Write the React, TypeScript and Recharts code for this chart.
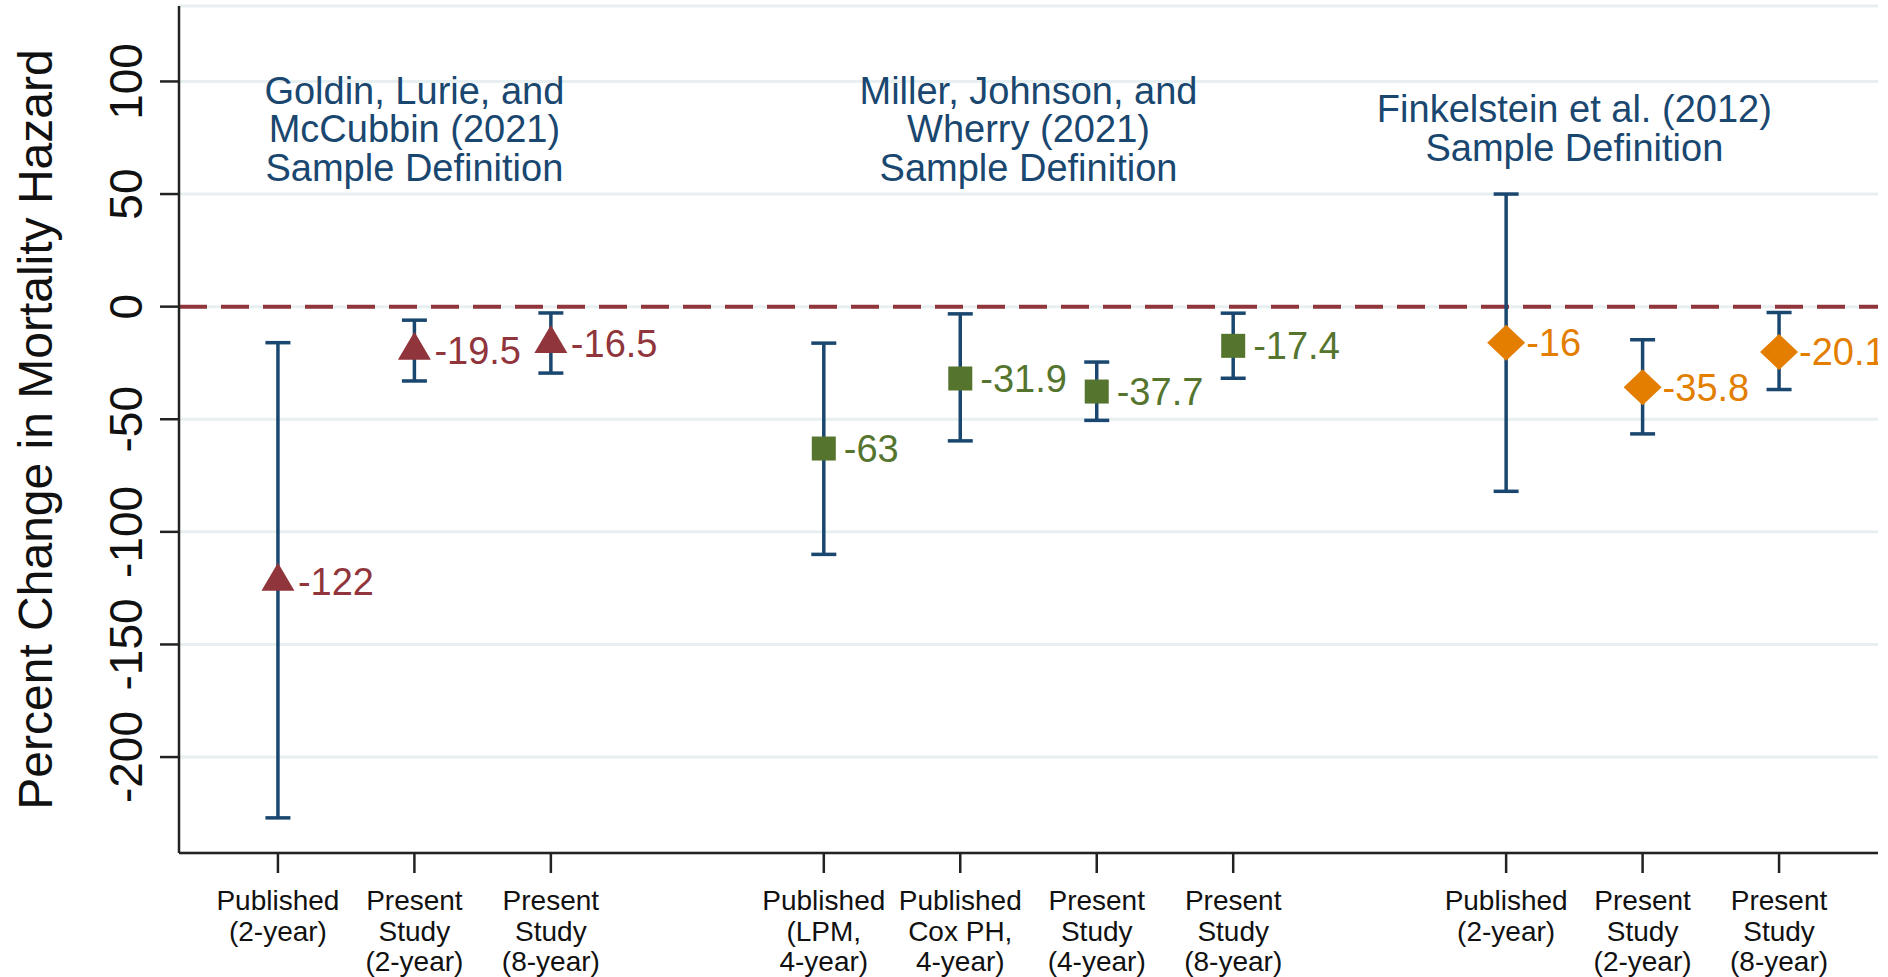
import React from "react";
import {
  ComposedChart,
  Scatter,
  XAxis,
  YAxis,
  CartesianGrid,
  ReferenceLine,
  ErrorBar,
  Label,
} from "recharts";

const FONT = '"Liberation Sans", Arial, Helvetica, sans-serif';
const NAVY = "#1a476f";
const MAROON = "#90353b";
const GREEN = "#55752f";
const ORANGE = "#e37e00";

// x slots, with a blank slot between the three sample definitions
const xPositions = [1, 2, 3, 5, 6, 7, 8, 10, 11, 12];
const tickLabels = [
  ["Published", "(2-year)"],
  ["Present", "Study", "(2-year)"],
  ["Present", "Study", "(8-year)"],
  ["Published", "(LPM,", "4-year)"],
  ["Published", "Cox PH,", "4-year)"],
  ["Present", "Study", "(4-year)"],
  ["Present", "Study", "(8-year)"],
  ["Published", "(2-year)"],
  ["Present", "Study", "(2-year)"],
  ["Present", "Study", "(8-year)"],
];
const estimates = [-122, -19.5, -16.5, -63, -31.9, -37.7, -17.4, -16, -35.8, -20.1];
const ciLow = [-227, -33, -29.5, -110, -59.6, -50.5, -31.8, -82, -56.5, -36.8];
const ciHigh = [-16, -6, -2.8, -16.2, -3.2, -24.6, -2.9, 50, -14.7, -2.6];

const headingX = [2, 6.5, 10.5];
const headingY = [96.2, 96.2, 87.8];
const headingLines = [
  ["Goldin, Lurie, and", "McCubbin (2021)", "Sample Definition"],
  ["Miller, Johnson, and", "Wherry (2021)", "Sample Definition"],
  ["Finkelstein et al. (2012)", "Sample Definition"],
];

const yTicks = [-200, -150, -100, -50, 0, 50, 100];

const rows = xPositions.map((x, i) => ({
  x,
  y: estimates[i],
  err: [estimates[i] - ciLow[i], ciHigh[i] - estimates[i]],
  label: String(estimates[i]),
}));
const goldinRows = rows.slice(0, 3);
const millerRows = rows.slice(3, 7);
const finkRows = rows.slice(7);

const headingRows = headingX.map((x, i) => ({ x, y: headingY[i], lines: headingLines[i] }));

function pointLabel(cx: number, cy: number, text: string, color: string) {
  return (
    <text x={cx + 20} y={cy + 13.5} fill={color} fontSize={38} fontFamily={FONT}>
      {text}
    </text>
  );
}

const Triangle = (p: any) => (
  <g>
    <polygon
      points={`${p.cx},${p.cy - 18.7} ${p.cx + 16.5},${p.cy + 9.3} ${p.cx - 16.5},${p.cy + 9.3}`}
      fill={MAROON}
    />
    {pointLabel(p.cx, p.cy, p.payload.label, MAROON)}
  </g>
);

const Square = (p: any) => (
  <g>
    <rect x={p.cx - 12} y={p.cy - 12} width={24} height={24} fill={GREEN} />
    {pointLabel(p.cx, p.cy, p.payload.label, GREEN)}
  </g>
);

const Diamond = (p: any) => (
  <g>
    <polygon
      points={`${p.cx},${p.cy - 18} ${p.cx + 19},${p.cy} ${p.cx},${p.cy + 18} ${p.cx - 19},${p.cy}`}
      fill={ORANGE}
    />
    {pointLabel(p.cx, p.cy, p.payload.label, ORANGE)}
  </g>
);

const Heading = (p: any) => (
  <text fill={NAVY} fontSize={38} fontFamily={FONT} textAnchor="middle">
    {p.payload.lines.map((t: string, k: number) => (
      <tspan key={k} x={p.cx} y={p.cy + 13.5 + k * 38.5}>
        {t}
      </tspan>
    ))}
  </text>
);

const XTick = (p: any) => {
  const idx = xPositions.indexOf(p.payload.value);
  const lines = idx >= 0 ? tickLabels[idx] : [];
  return (
    <g>
      {lines.map((t, k) => (
        <text key={k} x={p.x} y={p.y + 37 + k * 30.5} textAnchor="middle" fontSize={28} fill="#111" fontFamily={FONT}>
          {t}
        </text>
      ))}
    </g>
  );
};

const YTick = (p: any) => (
  <text
    x={p.x}
    y={p.y}
    transform={`rotate(-90, ${p.x}, ${p.y})`}
    textAnchor="middle"
    fontSize={46}
    fill="#111"
    fontFamily={FONT}
  >
    {p.payload.value}
  </text>
);

const YTitle = (p: any) => {
  const vb = p.viewBox || { y: 6, height: 847 };
  const cy = vb.y + vb.height / 2;
  return (
    <text
      x={52}
      y={cy}
      transform={`rotate(-90, 52, ${cy})`}
      textAnchor="middle"
      fontSize={48}
      fill="#111"
      fontFamily={FONT}
    >
      Percent Change in Mortality Hazard
    </text>
  );
};

const axisStroke = { stroke: "#222", strokeWidth: 2.5 };

export default function App() {
  return (
    <div style={{ width: 1888, height: 977, background: "#fff" }}>
      <style>{`body{margin:0;background:#fff}`}</style>
      <ComposedChart width={1888} height={977} margin={{ top: 6, right: 10, bottom: 0, left: 0 }}>
        <CartesianGrid vertical={false} stroke="#e8eff1" strokeWidth={3} />
        <XAxis
          dataKey="x"
          type="number"
          domain={[0.275, 12.725]}
          ticks={xPositions}
          allowDataOverflow
          height={124}
          tickSize={20}
          tickMargin={0}
          axisLine={axisStroke}
          tickLine={axisStroke}
          tick={<XTick />}
          interval={0}
        />
        <YAxis
          type="number"
          domain={[-242.6, 133.5]}
          ticks={yTicks}
          allowDataOverflow
          width={179}
          tickSize={19}
          tickMargin={18}
          axisLine={axisStroke}
          tickLine={axisStroke}
          tick={<YTick />}
          interval={0}
        >
          <Label content={<YTitle />} />
        </YAxis>
        <ReferenceLine y={0} stroke={MAROON} strokeWidth={4} strokeDasharray="28 14" />
        <Scatter data={goldinRows} dataKey="y" shape={Triangle} isAnimationActive={false}>
          <ErrorBar dataKey="err" direction="y" width={12.5} stroke={NAVY} strokeWidth={3.5} />
        </Scatter>
        <Scatter data={millerRows} dataKey="y" shape={Square} isAnimationActive={false}>
          <ErrorBar dataKey="err" direction="y" width={12.5} stroke={NAVY} strokeWidth={3.5} />
        </Scatter>
        <Scatter data={finkRows} dataKey="y" shape={Diamond} isAnimationActive={false}>
          <ErrorBar dataKey="err" direction="y" width={12.5} stroke={NAVY} strokeWidth={3.5} />
        </Scatter>
        <Scatter data={headingRows} dataKey="y" shape={Heading} isAnimationActive={false} />
      </ComposedChart>
    </div>
  );
}
